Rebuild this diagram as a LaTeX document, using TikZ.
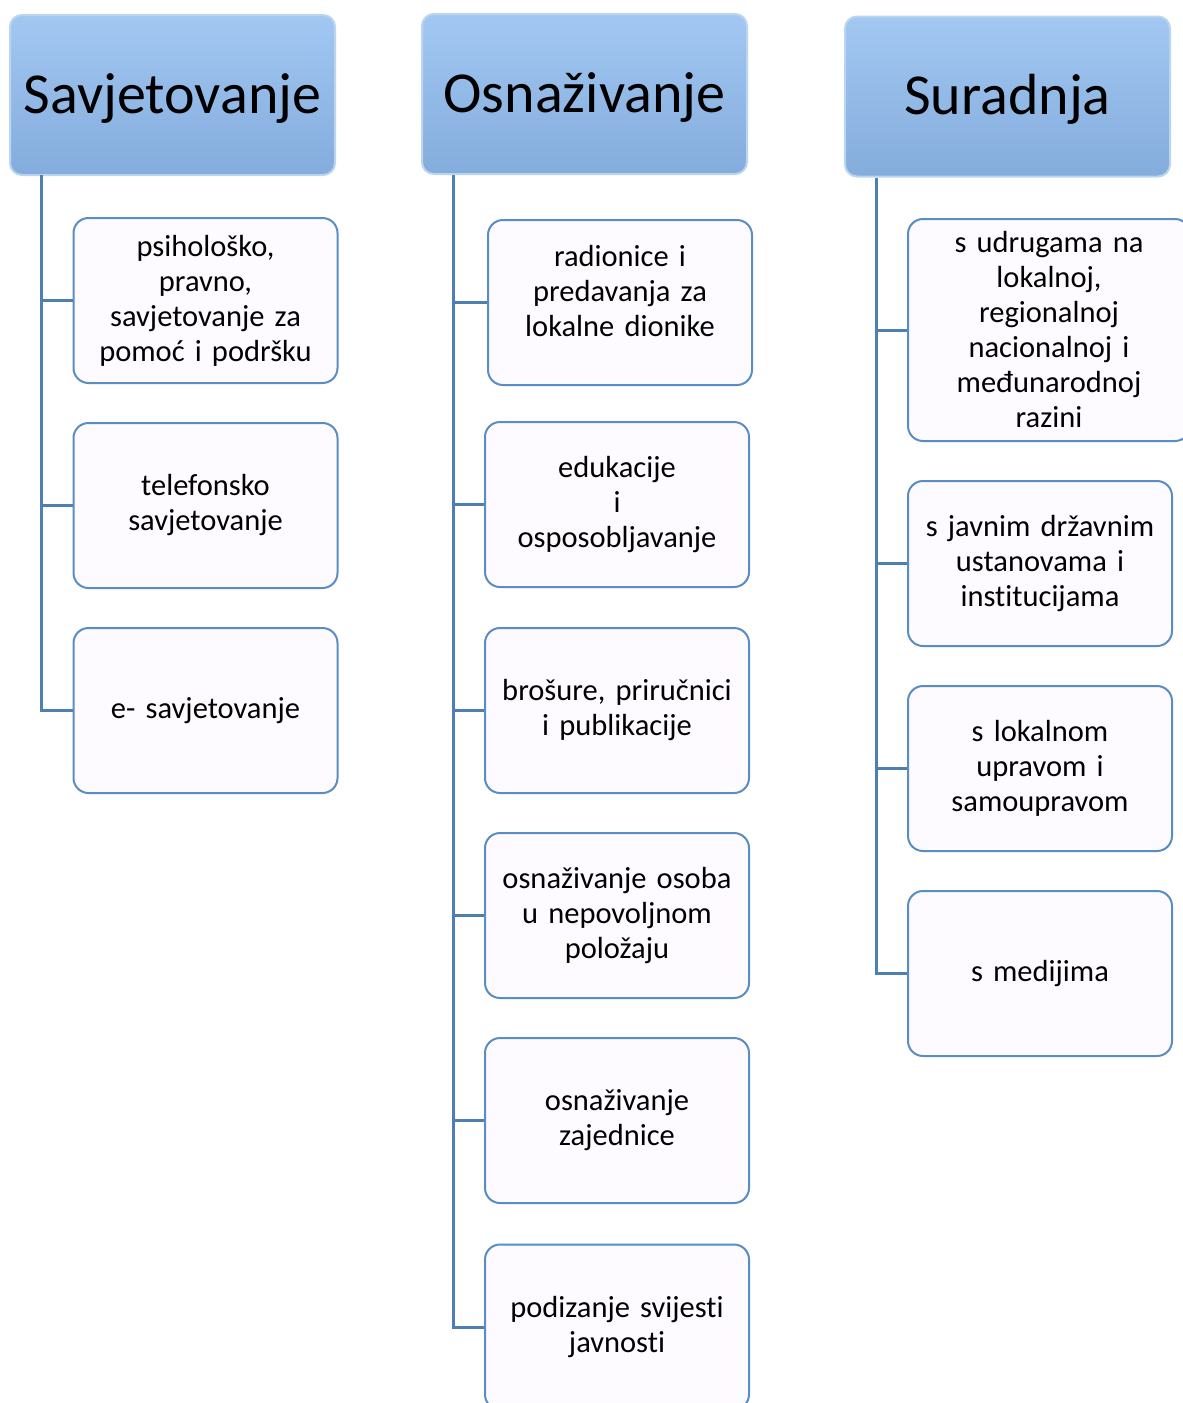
\documentclass[tikz,border=0pt]{standalone}
\usepackage{fontspec}
\setmainfont{Carlito}[Ligatures={NoCommon}, WordSpace=0.8]
\begin{document}
\begin{tikzpicture}[x=1pt,y=-1pt,
  hdr/.style={rounded corners=12pt, top color=hdrtop, bottom color=hdrbot, draw=hdrline, line width=2pt,
    minimum width=325pt, minimum height=160pt, inner sep=0pt, text height=76pt, text depth=40pt,
    font=\fontsize{58}{62}\selectfont},
  child/.style={rounded corners=15pt, fill=childfill, draw=childline, line width=2pt,
    minimum width=264pt, minimum height=165pt, inner sep=0pt, align=center, text width=256pt,
    font=\fontsize{30.5}{35}\selectfont},
  conn/.style={draw=connline, line width=3pt}]
\definecolor{hdrtop}{HTML}{A2C8F2}
\definecolor{hdrbot}{HTML}{84ACDC}
\definecolor{hdrline}{HTML}{B9D5F0}
\definecolor{childfill}{HTML}{FDFBFF}
\definecolor{childline}{HTML}{5A8DC4}
\definecolor{connline}{HTML}{4E7FB2}
\useasboundingbox (0,0) rectangle (1183,1403);
\clip (0,0) rectangle (1183,1403);
\fill[white] (0,0) rectangle (1183,1403);

% headers
\node[hdr] (h1) at (172.5,95) {Savjetovanje};
\node[hdr] (h2) at (584.5,94) {Osnaživanje};
\node[hdr] (h3) at (1007.5,96.5) {Suradnja};

% trunk tops
\coordinate (t1) at (41,175);
\coordinate (t2) at (453,175);
\coordinate (t3) at (876,178);

% column 1
\node[child] (c11) at (205.5,300.5) {psihološko,\\ pravno,\\ savjetovanje za\\ pomoć i podršku};
\node[child] (c12) at (205.5,505.5) {telefonsko\\ savjetovanje};
\node[child] (c13) at (205.5,710.5) {e- savjetovanje};

% column 2
\node[child, text depth=94pt] (c21) at (620,302.5) {radionice i\\ predavanja za\\ lokalne dionike};
\node[child] (c22) at (617,504.5) {edukacije\\ i\\ osposobljavanje};
\node[child] (c23) at (617,710.5) {brošure, priručnici\\ i publikacije};
\node[child] (c24) at (617,915.5) {osnaživanje osoba\\ u nepovoljnom\\ položaju};
\node[child] (c25) at (617,1120.5) {osnaživanje\\ zajednice};
\node[child] (c26) at (617,1327) {podizanje svijesti\\ javnosti};

% column 3
\node[child, minimum width=282pt, minimum height=222pt] (c31) at (1049,330) {s udrugama na\\ lokalnoj,\\ regionalnoj\\ nacionalnoj i\\ međunarodnoj\\ razini};
\node[child] (c32) at (1040,563.5) {s javnim državnim\\ ustanovama i\\ institucijama};
\node[child] (c33) at (1040,768.5) {s lokalnom\\ upravom i\\ samoupravom};
\node[child] (c34) at (1040,973.5) {s medijima};

% connectors
\foreach \c in {c11,c12,c13} \draw[conn] (t1) |- (\c.west);
\foreach \c in {c21,c22,c23,c24,c25,c26} \draw[conn] (t2) |- (\c.west);
\foreach \c in {c31,c32,c33,c34} \draw[conn] (t3) |- (\c.west);
\end{tikzpicture}
\end{document}
